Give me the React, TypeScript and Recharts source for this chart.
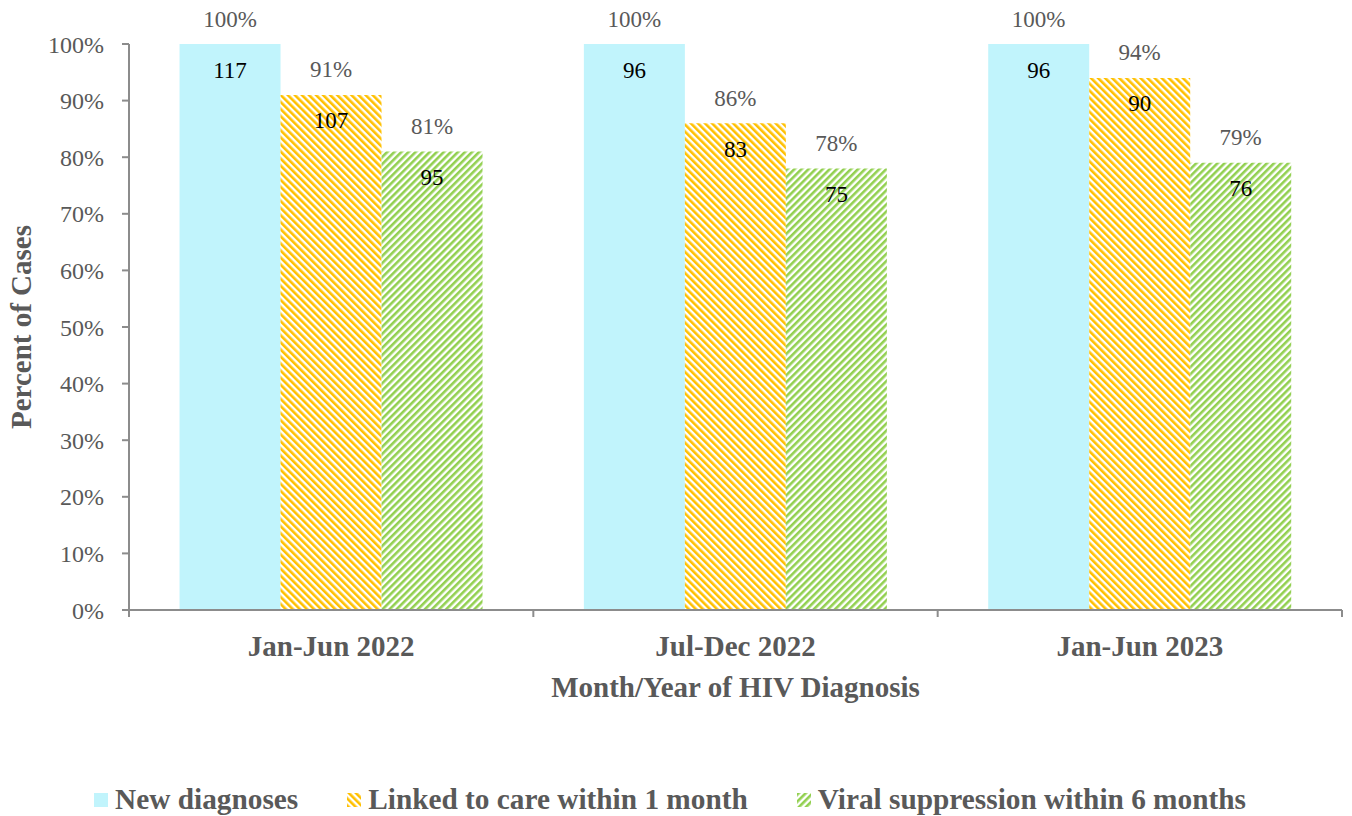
import React from "react";
import {
  BarChart,
  Bar,
  XAxis,
  YAxis,
  Legend,
  LabelList,
} from "recharts";

// chart values
const periods = ["Jan-Jun 2022", "Jul-Dec 2022", "Jan-Jun 2023"];
const newDxPct = [100, 100, 100];
const linkedPct = [91, 86, 94];
const viralPct = [81, 78, 79];
const newDxCount = [117, 96, 96];
const linkedCount = [107, 83, 90];
const viralCount = [95, 75, 76];
const yTicks = [0, 10, 20, 30, 40, 50, 60, 70, 80, 90, 100];

const seriesNames = [
  "New diagnoses",
  "Linked to care within 1 month",
  "Viral suppression within 6 months",
];

const FONT = "'Liberation Serif', 'Times New Roman', serif";
const GRAY = "#595959";
const AXIS = "#8c8c8c";
const CYAN = "#c1f4fc";
const GOLD = "#ffc000";
const GREEN = "#92d050";

const data = periods.map((p, i) => ({
  period: p,
  newDx: newDxPct[i],
  linked: linkedPct[i],
  viral: viralPct[i],
  newDxN: newDxCount[i],
  linkedN: linkedCount[i],
  viralN: viralCount[i],
}));

const PctLabel = (props: any) => {
  const { x, y, width, value } = props;
  return (
    <text
      x={x + width / 2}
      y={y - 25}
      textAnchor="middle"
      dominantBaseline="central"
      fontFamily={FONT}
      fontSize={23}
      fill={GRAY}
    >
      {value}%
    </text>
  );
};

const CountLabel = (props: any) => {
  const { x, y, width, value } = props;
  return (
    <text
      x={x + width / 2}
      y={y + 26}
      textAnchor="middle"
      dominantBaseline="central"
      fontFamily={FONT}
      fontSize={23}
      fill="#000"
    >
      {value}
    </text>
  );
};

const XTick = (props: any) => {
  const { x, y, payload, index, visibleTicksCount } = props;
  const half = payload.offset ?? 202;
  return (
    <g>
      <line x1={x - half} y1={y} x2={x - half} y2={y + 7} stroke={AXIS} strokeWidth={2} />
      {index === (visibleTicksCount ?? 3) - 1 && (
        <line x1={x + half} y1={y} x2={x + half} y2={y + 7} stroke={AXIS} strokeWidth={2} />
      )}
      <text
        x={x}
        y={y + 36}
        textAnchor="middle"
        dominantBaseline="central"
        fontFamily={FONT}
        fontSize={29}
        fontWeight="bold"
        fill={GRAY}
      >
        {payload.value}
      </text>
    </g>
  );
};

const LegendBox = () => (
  <div
    style={{
      display: "flex",
      justifyContent: "center",
      alignItems: "center",
      paddingTop: 73,
      marginLeft: -2,
      fontFamily: FONT,
      fontSize: 29.3,
      fontWeight: "bold",
      color: GRAY,
    }}
  >
    {seriesNames.map((name, i) => (
      <div
        key={name}
        style={{ display: "flex", alignItems: "center", marginRight: i < 2 ? 49 : 0 }}
      >
        <svg width={14} height={14} style={{ marginRight: 7 }}>
          <defs>
            <pattern id={"lg" + i} width={5} height={5} patternUnits="userSpaceOnUse"
              patternTransform={i === 1 ? "rotate(-45)" : "rotate(45)"}>
              <rect width={5} height={5} fill="#fff" />
              <rect width={2.6} height={5} fill={i === 1 ? GOLD : GREEN} />
            </pattern>
          </defs>
          <rect width={14} height={14} fill={i === 0 ? CYAN : `url(#lg${i})`} />
        </svg>
        <span>{name}</span>
      </div>
    ))}
  </div>
);

export default function App() {
  return (
    <div style={{ position: "absolute", left: 0, top: 0, background: "#fff" }}>
      <BarChart
        width={1352}
        height={816}
        data={data}
        margin={{ top: 44, right: 10, left: 0, bottom: 0 }}
        barCategoryGap="12.5%"
        barGap={0}
      >
        <defs>
          <pattern id="hatchGold" width={5} height={5} patternUnits="userSpaceOnUse" patternTransform="rotate(-45)">
            <rect width={5} height={5} fill="#fff" />
            <rect width={2.6} height={5} fill={GOLD} />
          </pattern>
          <pattern id="hatchGreen" width={5} height={5} patternUnits="userSpaceOnUse" patternTransform="rotate(45)">
            <rect width={5} height={5} fill="#fff" />
            <rect width={2.6} height={5} fill={GREEN} />
          </pattern>
        </defs>
        <XAxis
          dataKey="period"
          height={100}
          axisLine={{ stroke: AXIS, strokeWidth: 2 }}
          tickLine={false}
          tickSize={0}
          tickMargin={0}
          tick={<XTick />}
          interval={0}
          label={(p: any) => {
            const vb = p.viewBox;
            return (
              <text
                x={vb.x + vb.width / 2}
                y={vb.y + 77}
                textAnchor="middle"
                dominantBaseline="central"
                fontFamily={FONT}
                fontSize={29}
                fontWeight="bold"
                fill={GRAY}
              >
                Month/Year of HIV Diagnosis
              </text>
            );
          }}
        />
        <YAxis
          width={129}
          domain={[0, 100]}
          ticks={yTicks}
          interval={0}
          tickFormatter={(v: number) => `${v}%`}
          axisLine={{ stroke: AXIS, strokeWidth: 2 }}
          tickLine={{ stroke: AXIS, strokeWidth: 2 }}
          tickSize={7}
          tickMargin={18}
          tick={{ fontFamily: FONT, fontSize: 24, fill: GRAY }}
          label={(p: any) => {
            const vb = p.viewBox;
            const cy = vb.y + vb.height / 2;
            return (
              <text
                x={21}
                y={cy}
                transform={`rotate(-90, 21, ${cy})`}
                textAnchor="middle"
                dominantBaseline="central"
                fontFamily={FONT}
                fontSize={29}
                fontWeight="bold"
                fill={GRAY}
              >
                Percent of Cases
              </text>
            );
          }}
        />
        <Legend verticalAlign="bottom" height={106} content={<LegendBox />} />
        <Bar dataKey="newDx" name={seriesNames[0]} fill={CYAN} isAnimationActive={false}>
          <LabelList dataKey="newDx" content={<PctLabel />} />
          <LabelList dataKey="newDxN" content={<CountLabel />} />
        </Bar>
        <Bar dataKey="linked" name={seriesNames[1]} fill="url(#hatchGold)" isAnimationActive={false}>
          <LabelList dataKey="linked" content={<PctLabel />} />
          <LabelList dataKey="linkedN" content={<CountLabel />} />
        </Bar>
        <Bar dataKey="viral" name={seriesNames[2]} fill="url(#hatchGreen)" isAnimationActive={false}>
          <LabelList dataKey="viral" content={<PctLabel />} />
          <LabelList dataKey="viralN" content={<CountLabel />} />
        </Bar>
      </BarChart>
    </div>
  );
}
